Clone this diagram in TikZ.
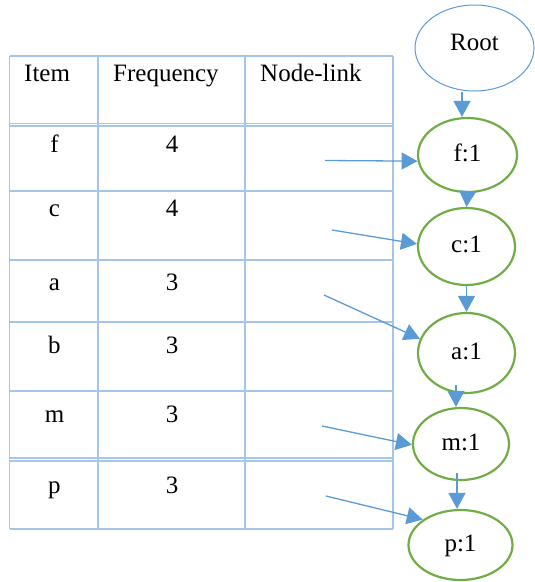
\documentclass[tikz,border=0pt]{standalone}
\usepackage{fontspec}
\setmainfont{Liberation Serif}
\newfontfamily\labelfont{Liberation Serif}
\usetikzlibrary{shapes.geometric,arrows.meta}
\definecolor{gridblue}{HTML}{A4C6E8}
\definecolor{linkblue}{HTML}{5B9BD5}
\definecolor{nodegreen}{HTML}{70AD47}
\begin{document}
\begin{tikzpicture}[x=1pt,y=-1pt,
  grid/.style={draw=gridblue,line width=1.4pt},
  cell/.style={font=\labelfont\fontsize{25}{30}\selectfont,inner sep=0pt},
  head/.style={cell,anchor=base west},
  entry/.style={cell,anchor=base},
  treenode/.style={ellipse,draw=nodegreen,line width=2.2pt,inner sep=0pt,
    font=\labelfont\fontsize{25}{30}\selectfont,text height=17pt,text depth=5pt},
  rootnode/.style={ellipse,draw=linkblue,line width=1pt,inner sep=0pt,
    font=\labelfont\fontsize{25}{30}\selectfont,text height=17pt,text depth=13pt},
  arr/.style={draw=linkblue,line width=1.3pt,
    -{Triangle[length=16pt,width=17pt,fill=linkblue]}}]
\useasboundingbox (0,0) rectangle (535,582);

% header table grid
\foreach \y in {56,123.3,125.8,191,260,322,391,457.8,460.8,529}
  \draw[grid] (9.5,\y) -- (393,\y);
\foreach \x in {9.5,98,245,393}
  \draw[grid] (\x,56) -- (\x,529);

% column titles
\node[head] (hitem) at (24,81.5) {Item};
\node[head] (hfreq) at (113,81.5) {Frequency};
\node[head] (hlink) at (260,81.5) {Node-link};

% item rows
\foreach \name/\it/\fr/\y in {f/f/4/152, c/c/4/216, a/a/3/290, b/b/3/353, m/m/3/422, p/p/3/493}{
  \node[entry] (item-\name) at (54.5,\y) {\it};
  \node[entry] (freq-\name) at (172,\y) {\fr};
}

% FP-tree branch
\node[rootnode,minimum width=119pt,minimum height=86pt] (root) at (474.5,48) {Root};
\node[treenode,minimum width=99pt,minimum height=74pt] (f) at (467.5,155) {f:1};
\node[treenode,minimum width=97pt,minimum height=77pt] (c) at (466.5,246.5) {c:1};
\node[treenode,minimum width=97pt,minimum height=80pt] (a) at (466.5,353) {a:1};
\node[treenode,minimum width=96pt,minimum height=72pt] (m) at (461,444) {m:1};
\node[treenode,minimum width=104pt,minimum height=70pt] (p) at (460.5,545) {p:1};

\draw[arr] ([xshift=-12.5pt]root.south) -- ([xshift=-5.5pt]f.north);
\draw[arr] (f.south) -- (c.north);
\draw[arr] (c.south) -- (a.north);
\draw[arr] ([xshift=-10.5pt,yshift=9pt]a.south) -- ([xshift=-5pt]m.north);
\draw[arr] ([xshift=-4pt,yshift=8pt]m.south) -- ([xshift=-3.5pt]p.north);

% node-links from the header table
\coordinate (lf) at (325,160.5);
\coordinate (lc) at (332,230);
\coordinate (la) at (324,295);
\coordinate (lm) at (322,426);
\coordinate (lp) at (326,496);
\draw[arr] (lf) -- (f.187);
\draw[arr] (lc) -- (c.177);
\draw[arr] (la) -- (a.163);
\draw[arr] (lm) -- (m.181);
\draw[arr] (lp) -- (p.146);
\end{tikzpicture}
\end{document}
